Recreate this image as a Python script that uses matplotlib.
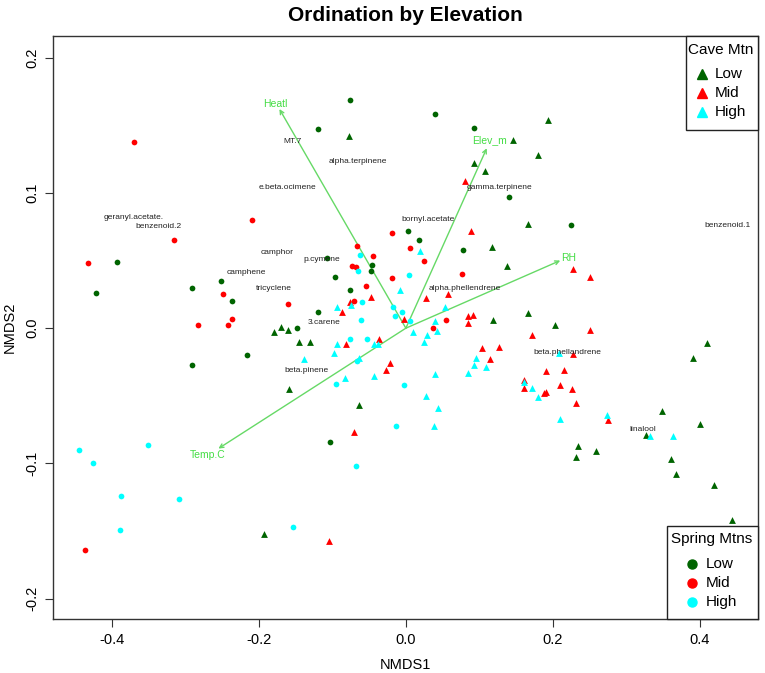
import matplotlib
matplotlib.use("Agg")
import matplotlib.pyplot as plt
from matplotlib.patches import Rectangle

plt.rcParams['font.family'] = ['Liberation Sans', 'DejaVu Sans']

# ---- data ----
spring_low_x = [-0.076, -0.120, 0.039, 0.092, 0.140, 0.224, -0.393, -0.421, -0.291, -0.252, -0.237,
                -0.107, -0.097, -0.046, -0.048, -0.076, -0.119, 0.003, 0.018, 0.078, -0.148, -0.291,
                -0.216, -0.103]
spring_low_y = [0.169, 0.147, 0.158, 0.148, 0.097, 0.076, 0.049, 0.026, 0.030, 0.035, 0.020,
                0.052, 0.038, 0.047, 0.042, 0.028, 0.012, 0.072, 0.065, 0.058, 0.000, -0.027,
                -0.020, -0.084]

spring_mid_x = [-0.370, -0.209, -0.316, -0.432, -0.249, -0.237, -0.242, -0.283, -0.161, -0.066, -0.045,
                -0.073, -0.068, -0.019, -0.019, -0.054, -0.071, 0.005, 0.025, 0.077, 0.055, 0.037,
                -0.437]
spring_mid_y = [0.138, 0.080, 0.065, 0.048, 0.025, 0.007, 0.002, 0.002, 0.018, 0.061, 0.053,
                0.046, 0.045, 0.070, 0.037, 0.031, 0.020, 0.059, 0.050, 0.040, 0.006, 0.000,
                -0.164]

spring_high_x = [-0.063, -0.065, -0.059, -0.061, -0.018, -0.015, 0.004, -0.005, 0.005, -0.076, -0.053,
                 -0.095, -0.003, -0.013, -0.068, -0.444, -0.425, -0.351, -0.387, -0.308, -0.389,
                 -0.153, -0.067]
spring_high_y = [0.054, 0.042, 0.019, 0.006, 0.016, 0.009, 0.039, 0.012, 0.005, -0.008, -0.008,
                 -0.041, -0.042, -0.072, -0.102, -0.090, -0.100, -0.086, -0.124, -0.126, -0.149,
                 -0.147, -0.024]

cave_low_x = [-0.078, 0.194, 0.146, 0.180, 0.093, 0.107, 0.166, 0.117, 0.137, 0.118, 0.166, 0.203,
              -0.179, -0.170, -0.161, -0.145, -0.130, -0.159, -0.064, -0.193, 0.409, 0.390, 0.348,
              0.400, 0.327, 0.360, 0.367, 0.419, 0.444, 0.234, 0.232, 0.259]
cave_low_y = [0.142, 0.154, 0.139, 0.128, 0.122, 0.116, 0.077, 0.060, 0.046, 0.006, 0.011, 0.002,
              -0.003, 0.001, -0.001, -0.010, -0.010, -0.045, -0.057, -0.152, -0.011, -0.022, -0.061,
              -0.071, -0.079, -0.097, -0.108, -0.116, -0.142, -0.087, -0.095, -0.091]

cave_mid_x = [0.081, 0.089, 0.057, 0.028, 0.227, 0.251, 0.084, 0.091, 0.085, 0.251, 0.172, -0.087,
              -0.047, -0.076, -0.003, -0.081, -0.036, -0.022, -0.027, -0.070, -0.104, 0.275, 0.231,
              0.226, 0.210, 0.215, 0.227, 0.190, 0.188, 0.190, 0.161, 0.161, 0.104, 0.127, 0.114]
cave_mid_y = [0.109, 0.072, 0.025, 0.022, 0.044, 0.038, 0.009, 0.010, 0.004, -0.001, -0.005, 0.012,
              0.023, 0.019, 0.007, -0.012, -0.008, -0.026, -0.031, -0.077, -0.157, -0.068, -0.055,
              -0.045, -0.042, -0.031, -0.019, -0.032, -0.048, -0.047, -0.038, -0.044, -0.015, -0.014,
              -0.023]

cave_high_x = [0.019, -0.008, 0.053, -0.075, -0.094, 0.039, 0.010, 0.029, 0.043, 0.025, -0.138,
               -0.098, -0.093, -0.043, -0.038, -0.064, -0.044, -0.083, 0.039, 0.028, 0.044, 0.038,
               0.096, 0.093, 0.109, 0.085, 0.208, 0.180, 0.172, 0.161, 0.210, 0.273, 0.332, 0.363]
cave_high_y = [0.057, 0.028, 0.016, 0.017, 0.016, 0.005, -0.003, -0.005, -0.002, -0.010, -0.023,
               -0.018, -0.012, -0.012, -0.012, -0.022, -0.035, -0.037, -0.034, -0.050, -0.059, -0.072,
               -0.022, -0.027, -0.029, -0.033, -0.018, -0.051, -0.044, -0.040, -0.067, -0.064, -0.080,
               -0.080]

env_names = ["Heatl", "Elev_m", "RH", "Temp.C"]
env_x = [-0.172, 0.110, 0.210, -0.255]
env_y = [0.162, 0.133, 0.050, -0.089]
env_lab_x = [-0.177, 0.114, 0.222, -0.269]
env_lab_y = [0.166, 0.139, 0.052, -0.094]

species = ["MT.7", "alpha.terpinene", "e.beta.ocimene", "geranyl.acetate.", "benzenoid.2", "camphor",
           "p.cymene", "camphene", "tricyclene", "3.carene", "beta.pinene", "gamma.terpinene",
           "bornyl.acetate", "benzenoid.1", "alpha.phellendrene", "beta.phellandrene", "linalool"]
species_x = [-0.154, -0.066, -0.161, -0.370, -0.336, -0.175, -0.114, -0.217, -0.180, -0.111, -0.135,
             0.127, 0.030, 0.438, 0.080, 0.219, 0.322]
species_y = [0.138, 0.123, 0.104, 0.082, 0.075, 0.056, 0.051, 0.041, 0.029, 0.004, -0.031,
             0.104, 0.080, 0.076, 0.029, -0.018, -0.075]

levels = ["Low", "Mid", "High"]
level_colors = ["#006400", "#FF0000", "#00FFFF"]
legend_titles = ["Cave Mtn", "Spring Mtns"]

# ---- figure ----
W, H = 765, 673
fig = plt.figure(figsize=(W / 100, H / 100), dpi=100)
AX_L, AX_R, AX_T, AX_B = 53, 758, 36, 619
ax = fig.add_axes([AX_L / W, 1 - AX_B / H, (AX_R - AX_L) / W, (AX_B - AX_T) / H])

def px2ax(px, py):
    return (px - AX_L) / (AX_R - AX_L), (AX_B - py) / (AX_B - AX_T)

dot_s = 17
tri_s = 24
spring = [(spring_low_x, spring_low_y), (spring_mid_x, spring_mid_y), (spring_high_x, spring_high_y)]
cave = [(cave_low_x, cave_low_y), (cave_mid_x, cave_mid_y), (cave_high_x, cave_high_y)]
for (xs, ys), c in zip(spring, level_colors):
    ax.scatter(xs, ys, s=dot_s, marker='o', color=c, linewidths=0, zorder=3)
for (xs, ys), c in zip(cave, level_colors):
    ax.scatter(xs, ys, s=tri_s, marker='^', color=c, linewidths=0, zorder=3)

for name, sx, sy in zip(species, species_x, species_y):
    ax.text(sx, sy, name, fontsize=6, ha='center', va='center', color='#222222', zorder=4)

arrow_col = '#66D966'
for name, ex, ey, lx, ly in zip(env_names, env_x, env_y, env_lab_x, env_lab_y):
    ax.annotate('', xy=(ex, ey), xytext=(0, 0),
                arrowprops=dict(arrowstyle='->', color=arrow_col, lw=1.0,
                                shrinkA=0, shrinkB=0, mutation_scale=7), zorder=2)
    ax.text(lx, ly, name, fontsize=7.5, ha='center', va='center', color='#44DD44', zorder=4)

ax.set_xlim(-0.480, 0.479)
ax.set_ylim(-0.215, 0.216)
ax.set_xticks([-0.4, -0.2, 0.0, 0.2, 0.4])
ax.set_xticklabels(["-0.4", "-0.2", "0.0", "0.2", "0.4"])
ax.set_yticks([-0.2, -0.1, 0.0, 0.1, 0.2])
ax.set_yticklabels(["-0.2", "-0.1", "0.0", "0.1", "0.2"], rotation=90, va='center')
ax.tick_params(direction='out', length=6, width=0.8, labelsize=10.5, pad=4, color='#333333')
for sp in ax.spines.values():
    sp.set_linewidth(1.0)
    sp.set_color('#333333')

ax.set_xlabel("NMDS1", fontsize=10.5, labelpad=8)
ax.set_ylabel("NMDS2", fontsize=10.5, labelpad=6)
ax.set_title("Ordination by Elevation", fontsize=15, fontweight='bold', pad=11)

# ---- legends (drawn as boxes in axes coordinates) ----
def draw_legend(box, title, title_xy, marker, marker_x, text_x, ys):
    (x0, y0, x1, y1) = box
    ax0, ay0 = px2ax(x0, y1)
    ax1, ay1 = px2ax(x1, y0)
    ax.add_patch(Rectangle((ax0, ay0), ax1 - ax0, ay1 - ay0, transform=ax.transAxes,
                           facecolor='white', edgecolor='#222222', linewidth=1.0, zorder=5,
                           clip_on=False))
    tx, ty = px2ax(*title_xy)
    ax.text(tx, ty, title, transform=ax.transAxes, fontsize=11, ha='center', va='center', zorder=6)
    for lab, c, py in zip(levels, level_colors, ys):
        mx, my = px2ax(marker_x, py)
        ax.plot([mx], [my], marker=marker, color=c, markersize=6.5, linestyle='none',
                transform=ax.transAxes, zorder=6, clip_on=False)
        lx, ly = px2ax(text_x, py)
        ax.text(lx, ly, lab, transform=ax.transAxes, fontsize=11, ha='left', va='center', zorder=6)

draw_legend((686, 36, 758, 130), legend_titles[0], (721, 50), '^', 702, 715, [74, 93, 112])
draw_legend((667, 526, 758, 619), legend_titles[1], (712, 539), 'o', 692, 706, [564, 583, 602])

fig.savefig("out.png", dpi=100)
